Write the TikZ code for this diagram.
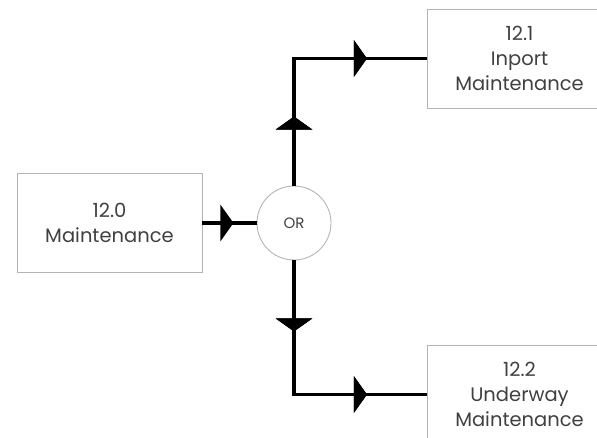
\documentclass[tikz,border=0pt]{standalone}
\usepackage{fontspec}
\setmainfont{Poppins}
\usetikzlibrary{arrows.meta,decorations.markings}
\definecolor{boxline}{HTML}{B4B4B4}
\definecolor{txt}{HTML}{404040}
\tikzset{
  procbox/.style={draw=boxline, line width=0.9pt, minimum width=185pt, minimum height=99pt,
    align=center, text=txt, font=\fontsize{19.5}{25}\selectfont, inner sep=0pt},
  orcirc/.style={draw=boxline, line width=0.9pt, circle, minimum size=74pt, inner sep=0pt,
    text=txt, font=\fontsize{15}{17}\selectfont},
  flow/.style={line width=3.2pt, black},
  tipat/.style={postaction={decorate}, decoration={markings,
    mark=at position #1 with {\arrow{Triangle[length=13pt,width=36pt]}}}},
}
\begin{document}
\begin{tikzpicture}[x=1pt,y=-1pt]
\useasboundingbox (0,0) rectangle (597,438);
\begin{scope}
\clip (0,0) rectangle (597,438);
\node[procbox] (A) at (109.5,223) {12.0\\Maintenance};
\node[procbox] (B) at (519.5,58.5) {12.1\\Inport\\Maintenance};
\node[procbox] (C) at (519.5,394.5) {12.2\\Underway\\Maintenance};
\node[orcirc] (OR) at (294,223) {OR};
\end{scope}
\draw[flow, tipat=31pt] (A.east) -- (OR.west);
\draw[flow, tipat=69pt, tipat=200pt] (OR.north) |- (B.west);
\draw[flow, tipat=71pt, tipat=207pt] (OR.south) |- (C.west);
\end{tikzpicture}
\end{document}
